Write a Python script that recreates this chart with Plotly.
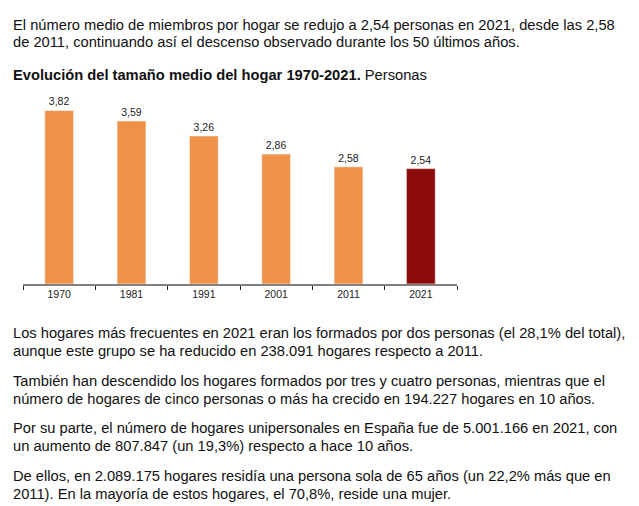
import plotly.graph_objects as go

# datos del gráfico
anios = ["1970", "1981", "1991", "2001", "2011", "2021"]
tamano_medio = [3.82, 3.59, 3.26, 2.86, 2.58, 2.54]
etiquetas = ["3,82", "3,59", "3,26", "2,86", "2,58", "2,54"]

intro = [
    "El número medio de miembros por hogar se redujo a 2,54 personas en 2021, desde las 2,58",
    "de 2011, continuando así el descenso observado durante los 50 últimos años.",
]
titulo_bold = "Evolución del tamaño medio del hogar 1970-2021."
titulo_resto = " Personas"

parrafos = [
    ["Los hogares más frecuentes en 2021 eran los formados por dos personas (el 28,1% del total),",
     "aunque este grupo se ha reducido en 238.091 hogares respecto a 2011."],
    ["También han descendido los hogares formados por tres y cuatro personas, mientras que el",
     "número de hogares de cinco personas o más ha crecido en 194.227 hogares en 10 años."],
    ["Por su parte, el número de hogares unipersonales en España fue de 5.001.166 en 2021, con",
     "un aumento de 807.847 (un 19,3%) respecto a hace 10 años."],
    ["De ellos, en 2.089.175 hogares residía una persona sola de 65 años (un 22,2% más que en",
     "2011). En la mayoría de estos hogares, el 70,8%, reside una mujer."],
]

W, H = 639, 506
FUENTE = "Liberation Sans, Arial, sans-serif"

colores = ["#EE9249"] * (len(anios) - 1) + ["#8B0A0A"]

fig = go.Figure()
fig.add_trace(go.Bar(
    x=anios,
    y=tamano_medio,
    text=etiquetas,
    textposition="outside",
    textfont=dict(size=10.5, color="#222222", family=FUENTE),
    cliponaxis=False,
    marker=dict(color=colores, line=dict(color="rgba(255,255,255,0.6)", width=1)),
    hoverinfo="skip",
))

def py(y_px):
    # pixel vertical -> fracción de papel
    return 1 - y_px / H

anot = []
for i, linea in enumerate(intro):
    anot.append(dict(text=linea, x=11 / W, y=py(25 + i * 17.5)))
anot.append(dict(text="<b>" + titulo_bold + "</b>" + titulo_resto, x=11 / W, y=py(75)))
y0 = [333, 381, 428, 476]
for p, lineas in enumerate(parrafos):
    for i, linea in enumerate(lineas):
        anot.append(dict(text=linea, x=11 / W, y=py(y0[p] + i * 17.5)))

for a in anot:
    a.update(xref="paper", yref="paper", xanchor="left", yanchor="middle",
             showarrow=False, font=dict(size=14.7, color="#111111", family=FUENTE))

fig.update_layout(
    width=W, height=H,
    margin=dict(l=0, r=0, t=0, b=0),
    paper_bgcolor="white",
    plot_bgcolor="white",
    showlegend=False,
    bargap=0.6,
    annotations=anot,
    font=dict(family=FUENTE),
)
fig.update_xaxes(
    domain=[23 / W, 457 / W],
    showline=True, linecolor="#808080", linewidth=1.5,
    ticks="outside", tickson="boundaries", ticklen=4, tickcolor="#222222",
    tickfont=dict(size=10.5, color="#222222", family=FUENTE),
    showgrid=False, fixedrange=True,
)
fig.update_yaxes(
    domain=[py(284), py(100)],
    range=[0, 4.05],
    visible=False, showgrid=False, fixedrange=True,
)

fig.write_html("out.html", config={"displayModeBar": False},
               post_script="document.body.style.margin='0';")
